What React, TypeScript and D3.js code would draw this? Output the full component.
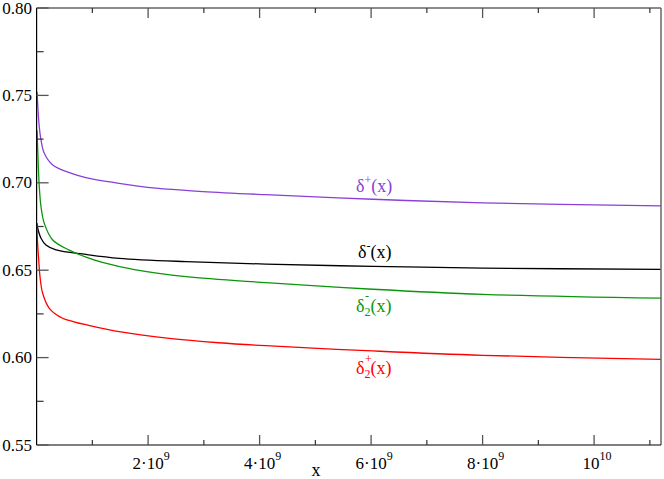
import React from "react";
import * as d3 from "d3";

const W = 664;
const H = 479;

// x in units of 1e9
const xPurple = [0.008, 0.025, 0.048, 0.079, 0.138, 0.289, 0.586, 0.885, 1.42, 2.14, 2.98, 4.11, 6.03, 8.0, 11.2];
const yPurple = [0.752, 0.742, 0.732, 0.7245, 0.7169, 0.7102, 0.7058, 0.703, 0.7, 0.6969, 0.695, 0.6932, 0.6906, 0.6885, 0.6868];

const xBlack = [0.004, 0.02, 0.079, 0.168, 0.348, 0.885, 1.48, 2.68, 4.11, 6.03, 8.0, 11.2];
const yBlack = [0.677, 0.674, 0.6683, 0.6644, 0.6616, 0.659, 0.6568, 0.6549, 0.6535, 0.6522, 0.6512, 0.6505];

const xGreen = [0.008, 0.03, 0.048, 0.079, 0.138, 0.289, 0.586, 0.885, 1.18, 1.78, 2.68, 4.11, 6.03, 8.0, 11.2];
const yGreen = [0.73, 0.71, 0.6978, 0.6863, 0.6768, 0.6673, 0.6615, 0.6575, 0.6545, 0.6502, 0.6463, 0.6429, 0.6391, 0.6362, 0.634];

const xRed = [0.004, 0.015, 0.038, 0.061, 0.109, 0.228, 0.467, 0.67, 0.885, 1.48, 2.38, 3.27, 4.11, 6.03, 8.0, 11.2];
const yRed = [0.675, 0.667, 0.6558, 0.6463, 0.6368, 0.6282, 0.6225, 0.6205, 0.6188, 0.6148, 0.611, 0.6085, 0.6068, 0.6038, 0.6013, 0.599];

const yTicks = [0.55, 0.6, 0.65, 0.7, 0.75, 0.8];
const yMinor = [0.575, 0.625, 0.675, 0.725, 0.775];
const xMajor = [2, 4, 6, 8, 10];
const xMinor = [1, 3, 5, 7, 9, 11];
const xTickMant = ["2·10", "4·10", "6·10", "8·10", "10"];
const xTickExp = ["9", "9", "9", "9", "10"];

const FONT = '"Liberation Serif", "Times New Roman", Times, "DejaVu Serif", "Noto Serif", serif';

export default function App() {
  const x = d3.scaleLinear().domain([0, 11.2]).range([36.6, 661]);
  const y = d3.scaleLinear().domain([0.55, 0.8]).range([445, 8]);
  const line = d3
    .line<[number, number]>()
    .x((d) => x(d[0]))
    .y((d) => y(d[1]))
    .curve(d3.curveCatmullRom.alpha(0.5));
  const mk = (xs: number[], ys: number[]) => line(xs.map((v, i) => [v, ys[i]] as [number, number])) || "";

  const x0 = x(0);
  const x1 = 661;
  const yTop = y(0.8);
  const yBot = y(0.55);
  const tf = { fontFamily: FONT } as React.CSSProperties;

  return (
    <svg width={W} height={H} style={{ position: "absolute", left: 0, top: 0, fontFamily: FONT }}>
      <rect x={0} y={0} width={W} height={H} fill="#fff" />
      <defs>
        <clipPath id="plot">
          <rect x={x0} y={yTop} width={x1 - x0} height={yBot - yTop} />
        </clipPath>
      </defs>
      <g clipPath="url(#plot)" fill="none" strokeWidth={1.3}>
        <path d={mk(xPurple, yPurple)} stroke="#8a3fd8" />
        <path d={mk(xBlack, yBlack)} stroke="#000" />
        <path d={mk(xGreen, yGreen)} stroke="#0a960a" />
        <path d={mk(xRed, yRed)} stroke="#ff0000" />
      </g>
      {/* frame */}
      <line x1={x0} y1={yTop} x2={x1} y2={yTop} stroke="#666" strokeWidth={1.5} />
      <line x1={x1} y1={yTop} x2={x1} y2={yBot} stroke="#666" strokeWidth={1.5} />
      <line x1={x0} y1={yTop} x2={x0} y2={yBot} stroke="#000" strokeWidth={1.2} />
      <line x1={x0} y1={yBot} x2={x1} y2={yBot} stroke="#000" strokeWidth={1.2} />
      {/* y ticks */}
      {yTicks.map((t) => (
        <g key={"yt" + t}>
          <line x1={x0} x2={x0 + 12} y1={y(t)} y2={y(t)} stroke="#555" strokeWidth={1.3} />
          <text x={32} y={y(t) + 5.5} textAnchor="end" fontSize={17} style={tf}>
            {t.toFixed(2)}
          </text>
        </g>
      ))}
      {yMinor.map((t) => (
        <line key={"ym" + t} x1={x0} x2={x0 + 7} y1={y(t)} y2={y(t)} stroke="#333" strokeWidth={1.2} />
      ))}
      {/* x ticks bottom and top */}
      {xMajor.map((t, i) => (
        <g key={"xt" + t}>
          <line x1={x(t)} x2={x(t)} y1={yBot} y2={yBot - 10} stroke="#555" strokeWidth={1.3} />
          <line x1={x(t)} x2={x(t)} y1={yTop} y2={yTop + 10} stroke="#555" strokeWidth={1.3} />
          <text x={x(t) + 3} y={469} textAnchor="middle" fontSize={17} style={tf}>
            <tspan>{xTickMant[i]}</tspan>
            <tspan dy={-9} fontSize={12}>
              {xTickExp[i]}
            </tspan>
          </text>
        </g>
      ))}
      {xMinor.map((t) => (
        <g key={"xm" + t}>
          <line x1={x(t)} x2={x(t)} y1={yBot} y2={yBot - 5} stroke="#333" strokeWidth={1.2} />
          <line x1={x(t)} x2={x(t)} y1={yTop} y2={yTop + 5} stroke="#333" strokeWidth={1.2} />
        </g>
      ))}
      <text x={316} y={476} textAnchor="middle" fontSize={18} style={tf}>
        x
      </text>
      {/* curve labels */}
      <text x={356} y={192} fontSize={18} fill="#8a3fd8" style={tf}>
        δ<tspan dy={-8} fontSize={12}>+</tspan>
        <tspan dy={8}>(x)</tspan>
      </text>
      <text x={358} y={258} fontSize={18} fill="#000" style={tf}>
        δ<tspan dy={-8} fontSize={12}>-</tspan>
        <tspan dy={8}>(x)</tspan>
      </text>
      <text x={356} y={312} fontSize={18} fill="#0a960a" style={tf}>
        δ<tspan dy={4} fontSize={12}>2</tspan>
        <tspan dy={-4}>(x)</tspan>
      </text>
      <text x={365} y={300} fontSize={12} fill="#0a960a" style={tf}>
        -
      </text>
      <text x={356} y={374} fontSize={18} fill="#ff0000" style={tf}>
        δ<tspan dy={4} fontSize={12}>2</tspan>
        <tspan dy={-4}>(x)</tspan>
      </text>
      <text x={365} y={363} fontSize={12} fill="#ff0000" style={tf}>
        +
      </text>
    </svg>
  );
}
